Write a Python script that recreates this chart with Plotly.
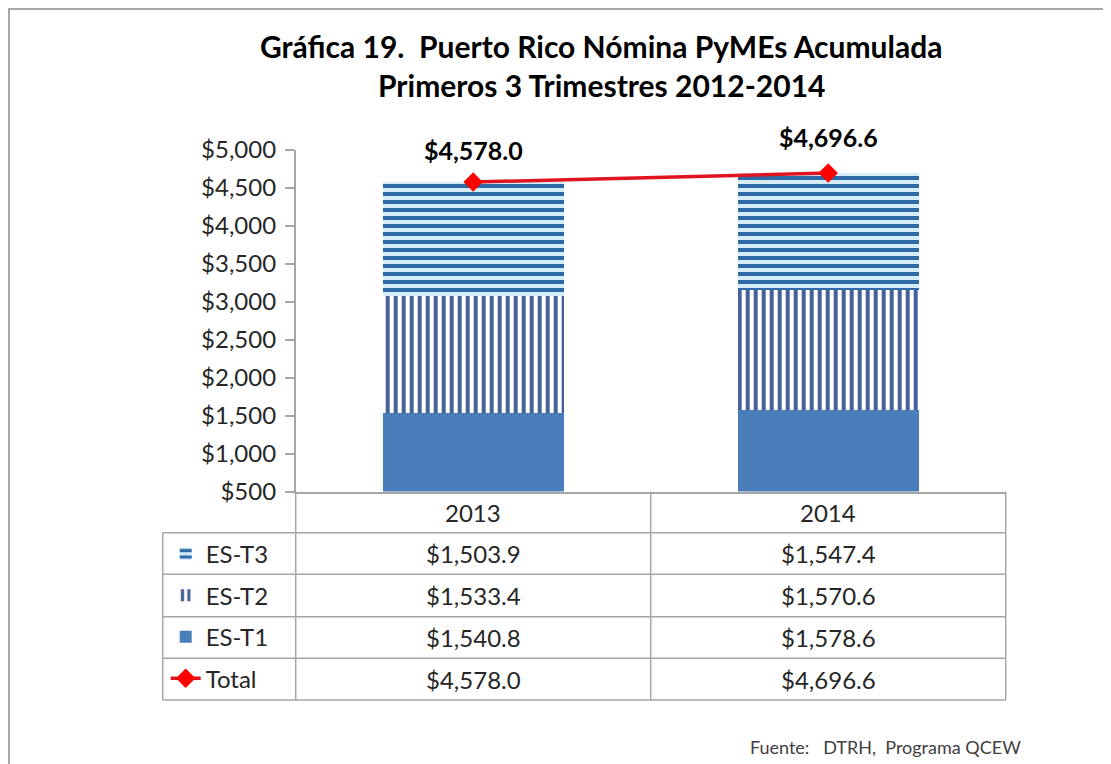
"""Gráfica 19 - Nómina PyMEs acumulada, stacked bars + data table"""

import plotly.graph_objects as go

# Data
# --------------------
years = ["2013", "2014"]
es_t1 = [1540.8, 1578.6]
es_t2 = [1533.4, 1570.6]
es_t3 = [1503.9, 1547.4]
total = [4578.0, 4696.6]
y_ticks = [500, 1000, 1500, 2000, 2500, 3000, 3500, 4000, 4500, 5000]

# Layout helpers (screen pixel -> paper); page body adds an 8px offset
# --------------------
W, H = 1111, 764
OFF = 8
FONT = "Lato, Carlito, Calibri, sans-serif"
GRID = "#a6a6a6"
TXT = "#262626"


def px(x):
    return (x - OFF) / W


def py(y):
    return 1 - (y - OFF) / H


X0, X1 = 295.7, 1005.7      # plot area left/right
Y_TOP, Y_AX = 150, 491.5     # $5,000 / $500 pixel rows
TBL_L = 162.7
rows = [491.5, 532.7, 574.3, 616.7, 658.3, 700]
label_shift = [32, 36]      # total labels above markers (px)


def money(v):
    return f"${v:,.1f}"


fig = go.Figure()

series = [
    ("ES-T1", es_t1, dict(color="#4a7ebb"), 3),
    ("ES-T2", es_t2, dict(color="#ffffff",
                          pattern=dict(shape="|", fgcolor="#46609a", bgcolor="#ffffff",
                                       size=8, solidity=0.5, fillmode="replace")), 2),
    ("ES-T3", es_t3, dict(color="#dcefff",
                          pattern=dict(shape="-", fgcolor="#2c6aa8", bgcolor="#d6ecf9",
                                       size=8, solidity=0.5, fillmode="replace")), 1),
]
for name, vals, marker, rank in series:
    fig.add_trace(go.Bar(
        x=years, y=vals, name=name, marker=marker, marker_line_width=0,
        legendgroup=name, legendrank=rank,
    ))

fig.add_trace(go.Scatter(
    x=years, y=total, name="Total", mode="lines+markers",
    line=dict(color="#e0141e", width=3.5),
    marker=dict(symbol="diamond", size=15, color="#ff0000"),
    legendgroup="Total", legendrank=4, cliponaxis=False,
))

for j, v in enumerate(total):
    fig.add_annotation(x=j, y=v, xref="x", yref="y", yshift=label_shift[j], yanchor="middle",
                       text=f"<b>{money(v)}</b>", showarrow=False,
                       font=dict(family=FONT, size=25, color="#000000"))

fig.update_layout(
    width=W, height=H,
    margin=dict(l=0, r=0, t=0, b=0, autoexpand=False),
    paper_bgcolor="white", plot_bgcolor="white",
    barmode="stack", bargap=0.49,
    font=dict(family=FONT, size=24, color=TXT),
    showlegend=True,
    legend=dict(
        x=px(TBL_L + 3), y=py(rows[1] - 1), xanchor="left", yanchor="top",
        traceorder="grouped", tracegroupgap=7.3, itemwidth=30,
        font=dict(family=FONT, size=24, color=TXT), bgcolor="rgba(0,0,0,0)",
    ),
    xaxis=dict(
        type="category", automargin=False,
        domain=[px(X0), px(X1)], range=[-0.5, 1.5],
        showticklabels=False, ticks="", showline=True, linecolor=GRID, linewidth=1.5,
        showgrid=False, zeroline=False,
    ),
    yaxis=dict(
        automargin=False,
        domain=[py(Y_AX), py(Y_TOP)], range=[500, 5000],
        tickvals=y_ticks, ticktext=[f"${v:,}" for v in y_ticks],
        ticks="outside", ticklen=9, tickcolor=GRID, tickwidth=1.5,
        showline=True, linecolor=GRID, linewidth=1.5,
        showgrid=False, zeroline=False, ticklabelstandoff=4,
    ),
)

# title lines
for txt, yc in [("Gráfica 19.  Puerto Rico Nómina PyMEs Acumulada", 46),
                ("Primeros 3 Trimestres 2012-2014", 85)]:
    fig.add_annotation(text=f"<b>{txt}</b>", x=px(601), y=py(yc), xref="paper", yref="paper",
                       xanchor="center", yanchor="middle", showarrow=False,
                       font=dict(family=FONT, size=30, color="#000000"))

# Data table grid
# --------------------
shapes = []
for y in rows[1:]:
    shapes.append(dict(type="line", xref="paper", yref="paper",
                       x0=px(TBL_L), x1=px(X1), y0=py(y), y1=py(y)))
for x in [X0, (X0 + X1) / 2, X1]:
    shapes.append(dict(type="line", xref="paper", yref="paper",
                       x0=px(x), x1=px(x), y0=py(rows[0]), y1=py(rows[-1])))
shapes.append(dict(type="line", xref="paper", yref="paper",
                   x0=px(TBL_L), x1=px(TBL_L), y0=py(rows[1]), y1=py(rows[-1])))
# outer chart border
shapes.append(dict(type="rect", xref="paper", yref="paper",
                   x0=px(9), x1=px(1130), y0=py(9), y1=py(790), line=dict(color="#8c8c8c", width=1.5)))
for s in shapes:
    s.setdefault("line", dict(color=GRID, width=1.5))
fig.update_layout(shapes=shapes)

# table text
table_rows = [years, [money(v) for v in es_t3], [money(v) for v in es_t2],
              [money(v) for v in es_t1], [money(v) for v in total]]
for i, cells in enumerate(table_rows):
    yc = (rows[i] + rows[i + 1]) / 2
    for j, txt in enumerate(cells):
        fig.add_annotation(x=j, xref="x", y=py(yc), yref="paper", text=txt,
                           xanchor="center", yanchor="middle", showarrow=False,
                           font=dict(family=FONT, size=24, color=TXT))

fig.add_annotation(text="Fuente:   DTRH,  Programa QCEW", x=px(1023), y=py(747),
                   xref="paper", yref="paper", xanchor="right", yanchor="middle", showarrow=False,
                   font=dict(family=FONT, size=18, color="#404040"))

fig.write_html("out.html")
